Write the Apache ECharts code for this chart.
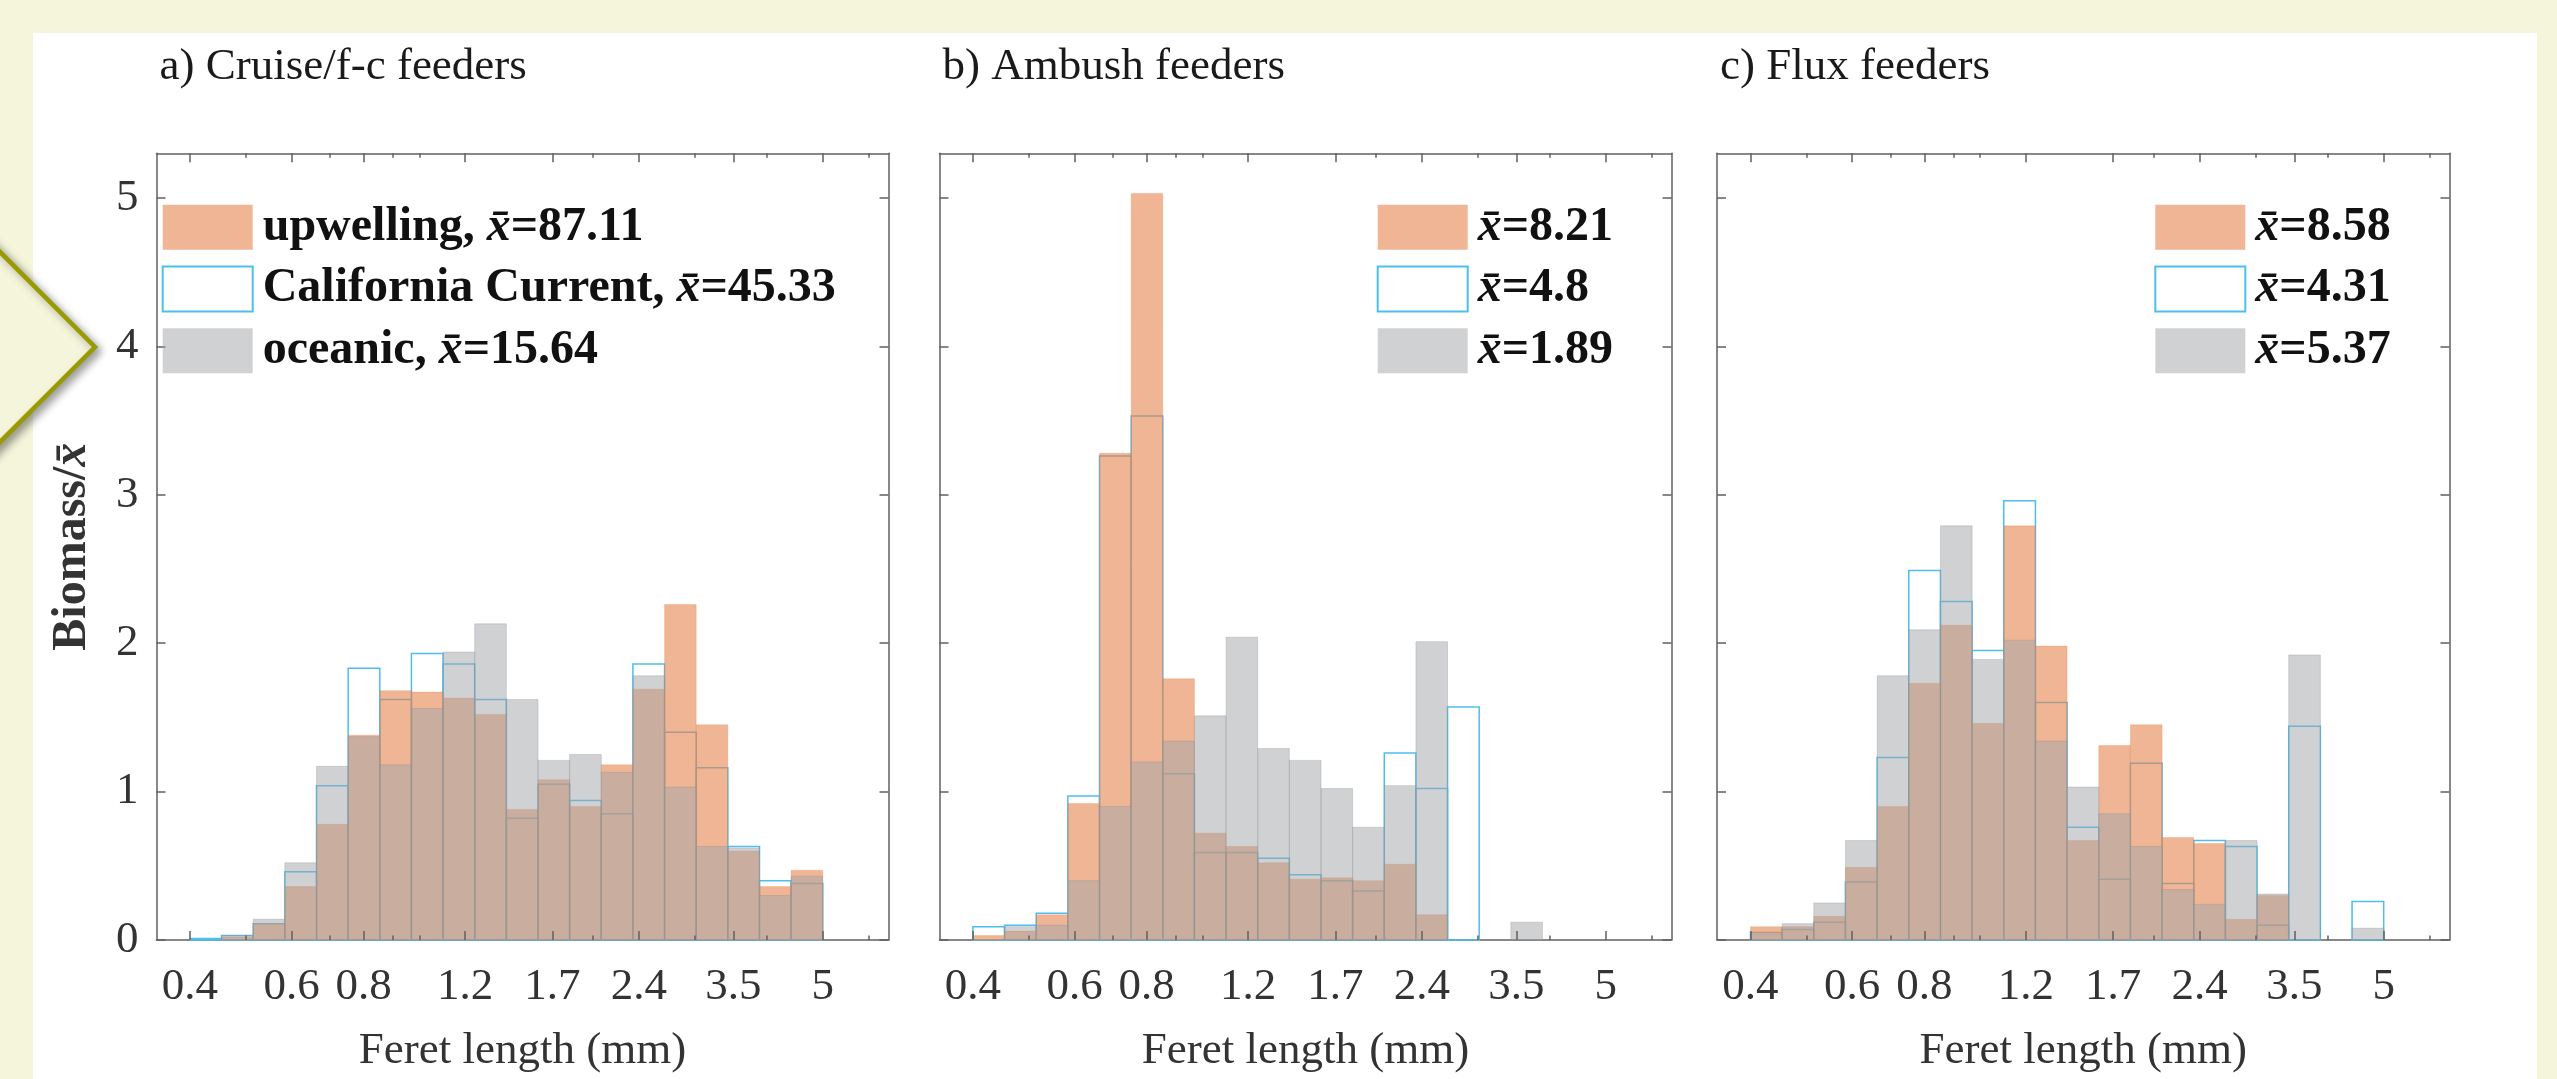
<!DOCTYPE html>
<html><head><meta charset="utf-8">
<script src="https://cdn.jsdelivr.net/npm/echarts@6/dist/echarts.min.js"></script>
<style>html,body{margin:0;padding:0;background:#F5F5DC}#c{width:2557px;height:1079px}</style>
</head><body><div id="c"></div>
<script>
// ---------- data ----------
const binEdges = [0.4, 0.4538, 0.5149, 0.5842, 0.6629, 0.7521, 0.8534, 0.9682, 1.0985, 1.2464, 1.4142,
  1.6046, 1.8205, 2.0656, 2.3436, 2.6591, 3.0170, 3.4231, 3.8839, 4.4067, 5.0];
const tickValues = [0.4, 0.6, 0.8, 1.2, 1.7, 2.4, 3.5, 5];
const tickLabels = ['0.4', '0.6', '0.8', '1.2', '1.7', '2.4', '3.5', '5'];
const minorTickValues = [0.5, 0.7, 0.9, 1, 2, 3, 4, 6];
const yTicks = [0, 1, 2, 3, 4, 5];
const xRange = [0.35, 6.5];
const yRange = [0, 5.3];
const panelTitles = ['a) Cruise/f-c feeders', 'b) Ambush feeders', 'c) Flux feeders'];
const xAxisTitle = 'Feret length (mm)';
const yAxisTitle = 'Biomass/x̄';

const namesA = ['upwelling, x̄=87.11', 'California Current, x̄=45.33', 'oceanic, x̄=15.64'];
const upwellingA = [0, 0.02, 0.11, 0.36, 0.78, 1.38, 1.68, 1.67, 1.63, 1.52, 0.88, 1.08, 0.90, 1.18, 1.69, 2.26, 1.45, 0.60, 0.36, 0.47];
const californiaA = [0.01, 0.03, 0.11, 0.46, 1.04, 1.83, 1.62, 1.93, 1.86, 1.62, 0.82, 1.05, 0.94, 0.85, 1.86, 1.40, 1.16, 0.63, 0.40, 0.38];
const oceanicA = [0, 0.03, 0.14, 0.52, 1.17, 1.37, 1.18, 1.56, 1.94, 2.13, 1.62, 1.21, 1.25, 1.13, 1.78, 1.03, 0.63, 0.62, 0.30, 0.43];

const namesB = ['x̄=8.21', 'x̄=4.8', 'x̄=1.89'];
const upwellingB = [0.03, 0.06, 0.17, 0.92, 3.28, 5.03, 1.76, 0.72, 0.63, 0.52, 0.41, 0.42, 0.40, 0.51, 0.17, 0, 0, 0, 0, 0];
const californiaB = [0.09, 0.10, 0.18, 0.97, 3.26, 3.53, 1.12, 0.59, 0.59, 0.55, 0.44, 0.40, 0.33, 1.26, 1.02, 1.57, 0, 0, 0, 0];
const oceanicB = [0, 0.09, 0.10, 0.40, 0.90, 1.20, 1.34, 1.51, 2.04, 1.29, 1.21, 1.02, 0.76, 1.04, 2.01, 0, 0, 0.12, 0, 0];

const namesC = ['x̄=8.58', 'x̄=4.31', 'x̄=5.37'];
const upwellingC = [0.09, 0.09, 0.16, 0.49, 0.90, 1.73, 2.12, 1.46, 2.79, 1.98, 0.67, 1.31, 1.45, 0.69, 0.65, 0.14, 0.30, 0, 0, 0];
const californiaC = [0.05, 0.07, 0.12, 0.39, 1.23, 2.49, 2.28, 1.95, 2.96, 1.60, 0.76, 0.41, 1.19, 0.38, 0.67, 0.63, 0.10, 1.44, 0, 0.26];
const oceanicC = [0.04, 0.11, 0.25, 0.67, 1.78, 2.09, 2.79, 1.89, 2.02, 1.34, 1.03, 0.85, 0.63, 0.34, 0.24, 0.67, 0.31, 1.92, 0, 0.08];

// ---------- styling ----------
const SALMON = 'rgba(230,132,77,0.6)';
const GRAY = 'rgba(163,165,169,0.51)';
const BLUE = '#4DBEEE';
const AXIS = '#606060';
const TXT = '#333333';
const FONT = 'Liberation Serif';

const panels = [
  {title: panelTitles[0], names: namesA, up: upwellingA, cc: californiaA, oc: oceanicA, left: 156.5, width: 732, legendLeft: 161.7, yLabels: true},
  {title: panelTitles[1], names: namesB, up: upwellingB, cc: californiaB, oc: oceanicB, left: 939.5, width: 732, legendLeft: 1376.7, yLabels: false},
  {title: panelTitles[2], names: namesC, up: upwellingC, cc: californiaC, oc: oceanicC, left: 1717, width: 732.5, legendLeft: 2154.3, yLabels: false}
];
const gridTop = 153.3, gridHeight = 791.2;

const lg = v => Math.log10(v);
function fmtTick(v) {
  for (let i = 0; i < tickValues.length; i++) if (Math.abs(lg(tickValues[i]) - v) < 1e-6) return tickLabels[i];
  return '';
}
function binData(values) {
  return values.map((v, i) => [lg(binEdges[i]), lg(binEdges[i + 1]), v]);
}
function makeRender(style) {
  return function (params, api) {
    const v = api.value(2);
    if (!(v > 0)) return;
    const p0 = api.coord([api.value(0), v]);
    const p1 = api.coord([api.value(1), 0]);
    return {type: 'rect', shape: {x: p0[0], y: p0[1], width: p1[0] - p0[0], height: p1[1] - p0[1]}, style: style};
  };
}

const grids = [], xAxes = [], yAxes = [], series = [], titles = [], legends = [];
const richItalic = {fontFamily: FONT, fontSize: 48, fontWeight: 'bold', fontStyle: 'italic', color: '#111', lineHeight: 45};

panels.forEach((p, k) => {
  grids.push({left: p.left, top: gridTop, width: p.width, height: gridHeight, containLabel: false});
  const base = {gridIndex: k, type: 'value', min: lg(xRange[0]), max: lg(xRange[1]), splitLine: {show: false}};
  const tickLine = {color: AXIS, width: 1.5};
  const lineOn = {show: true, onZero: false, lineStyle: {color: AXIS, width: 1.5}};
  const lineOff = {show: false, onZero: false};
  // 0: bottom line, labels and name
  xAxes.push(Object.assign({}, base, {
    position: 'bottom', z: 0,
    axisLine: lineOn,
    axisTick: {show: false},
    axisLabel: {show: true, customValues: tickValues.map(lg), formatter: fmtTick, margin: 25,
      fontFamily: FONT, fontSize: 45, color: TXT},
    name: xAxisTitle, nameLocation: 'middle', nameGap: 89,
    nameTextStyle: {fontFamily: FONT, fontSize: 45, color: TXT}
  }));
  // 1: bottom major ticks (above bars)
  xAxes.push(Object.assign({}, base, {
    position: 'bottom', z: 5, axisLine: lineOff, axisLabel: {show: false},
    axisTick: {show: true, inside: true, length: 9, customValues: tickValues.map(lg), lineStyle: tickLine}
  }));
  // 2: bottom minor ticks
  xAxes.push(Object.assign({}, base, {
    position: 'bottom', z: 5, axisLine: lineOff, axisLabel: {show: false},
    axisTick: {show: true, inside: true, length: 4.5, customValues: minorTickValues.map(lg), lineStyle: tickLine}
  }));
  // 3: top line + major ticks
  xAxes.push(Object.assign({}, base, {
    position: 'top', z: 0, axisLine: lineOn, axisLabel: {show: false},
    axisTick: {show: true, inside: true, length: 9, customValues: tickValues.map(lg), lineStyle: tickLine}
  }));
  // 4: top minor ticks
  xAxes.push(Object.assign({}, base, {
    position: 'top', z: 0, axisLine: lineOff, axisLabel: {show: false},
    axisTick: {show: true, inside: true, length: 4.5, customValues: minorTickValues.map(lg), lineStyle: tickLine}
  }));
  const ybase = {gridIndex: k, type: 'value', min: yRange[0], max: yRange[1], splitLine: {show: false}};
  yAxes.push(Object.assign({}, ybase, {
    position: 'left',
    axisLine: lineOn,
    axisTick: {show: true, inside: true, length: 9, customValues: yTicks, lineStyle: tickLine},
    axisLabel: {show: p.yLabels, customValues: yTicks, margin: 18, fontFamily: FONT, fontSize: 45, color: TXT},
    name: p.yLabels ? '{b|Biomass/}{i|x̄}' : '', nameLocation: 'middle', nameGap: 60, nameRotate: 90,
    nameTextStyle: {rich: {
      b: {fontFamily: FONT, fontSize: 48, fontWeight: 'bold', color: '#333'},
      i: {fontFamily: FONT, fontSize: 48, fontWeight: 'bold', fontStyle: 'italic', color: '#333'}
    }}
  }));
  yAxes.push(Object.assign({}, ybase, {
    position: 'right',
    axisLine: lineOn,
    axisTick: {show: true, inside: true, length: 9, customValues: yTicks, lineStyle: tickLine},
    axisLabel: {show: false}
  }));

  const xi = k * 5, yi = k * 2;
  series.push({
    type: 'custom', name: p.names[1], xAxisIndex: xi, yAxisIndex: yi, z: 2,
    itemStyle: {color: '#ffffff', borderColor: BLUE, borderWidth: 2},
    encode: {x: [0, 1], y: 2}, data: binData(p.cc),
    renderItem: makeRender({fill: null, stroke: BLUE, lineWidth: 1.5})
  });
  series.push({
    type: 'custom', name: p.names[0], xAxisIndex: xi, yAxisIndex: yi, z: 2,
    itemStyle: {color: SALMON},
    encode: {x: [0, 1], y: 2}, data: binData(p.up),
    renderItem: makeRender({fill: SALMON, stroke: 'rgba(230,132,77,0.25)', lineWidth: 1})
  });
  series.push({
    type: 'custom', name: p.names[2], xAxisIndex: xi, yAxisIndex: yi, z: 2,
    itemStyle: {color: GRAY},
    encode: {x: [0, 1], y: 2}, data: binData(p.oc),
    renderItem: makeRender({fill: GRAY, stroke: 'rgba(140,142,146,0.3)', lineWidth: 1})
  });

  titles.push({
    text: p.title, left: p.left + 3, top: 45, padding: 0,
    textStyle: {fontFamily: FONT, fontSize: 45, fontWeight: 'normal', color: '#1a1a1a'}
  });
  legends.push({
    orient: 'vertical', left: p.legendLeft, top: 203.3, padding: 0,
    itemWidth: 90, itemHeight: 45, itemGap: 13.7, icon: 'rect', selectedMode: false,
    data: [
      {name: p.names[0], itemStyle: {color: SALMON, borderWidth: 0}},
      {name: p.names[1], itemStyle: {color: '#ffffff', borderColor: BLUE, borderWidth: 2}},
      {name: p.names[2], itemStyle: {color: GRAY, borderWidth: 0}}
    ],
    formatter: n => n.replace('x̄', '{i|x̄}'),
    textStyle: {fontFamily: FONT, fontSize: 48, fontWeight: 'bold', color: '#111', lineHeight: 45,
      padding: [0, 0, 0, 5], rich: {i: richItalic}}
  });
});

const chart = echarts.init(document.getElementById('c'), null, {renderer: 'canvas'});
chart.setOption({
  backgroundColor: '#F5F5DC',
  animation: false,
  title: titles,
  legend: legends,
  grid: grids,
  xAxis: xAxes,
  yAxis: yAxes,
  series: series,
  graphic: [
    {type: 'rect', z: -20, silent: true, shape: {x: 33, y: 33, width: 2504, height: 1100}, style: {fill: '#ffffff'}},
    {type: 'polygon', z: -10, silent: true,
      shape: {points: [[95, 347], [-200, 52], [-495, 347], [-200, 642]]},
      style: {fill: '#F5F5DC', stroke: '#999900', lineWidth: 4.5,
        shadowBlur: 8, shadowOffsetX: 4, shadowOffsetY: 4, shadowColor: 'rgba(0,0,0,0.35)'}}
  ]
});
</script></body></html>
